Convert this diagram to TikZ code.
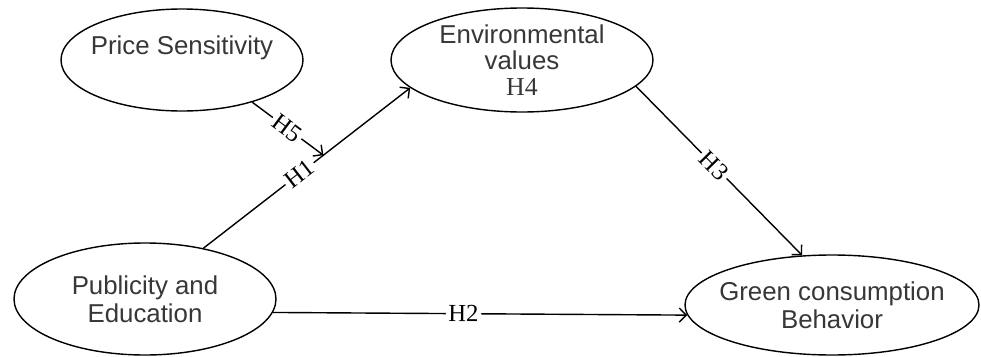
\documentclass[tikz,border=0pt]{standalone}
\usepackage{fontspec}
\setmainfont{Liberation Sans}
\newfontfamily\hfont{Liberation Serif}
\usepackage{xcolor}
\usetikzlibrary{shapes.geometric,arrows.meta}
\definecolor{txtgray}{RGB}{55,55,55}

\begin{document}
\begin{tikzpicture}[
    ell/.style={ellipse, draw=black, line width=0.8pt, inner sep=0pt},
    txt/.style={align=center, text=txtgray, font=\fontsize{14.7}{16}\selectfont},
    arr/.style={line width=0.8pt, -{Straight Barb[length=4pt,width=8pt]}},
    hyp/.style={sloped, fill=white, inner sep=1.5pt, font=\hfont\fontsize{14}{14}\selectfont}]
    \useasboundingbox (0,0) rectangle (19.62,7.12);

    % constructs
    \node[ell, minimum width=4.84cm, minimum height=2.04cm] (ps) at (3.64,5.92) {};
    \node[ell, minimum width=5.24cm, minimum height=2.08cm] (env) at (10.44,5.92) {};
    \node[ell, minimum width=5.24cm, minimum height=2.24cm] (pub) at (2.90,1.14) {};
    \node[ell, minimum width=5.88cm, minimum height=2.00cm] (gcb) at (16.64,1.02) {};

    \node[txt] (ps-t) at ([yshift=0.24cm]ps.center) {Price Sensitivity};
    \node[txt, font=\fontsize{14.7}{14.7}\selectfont] (env-t) at (env.center)
        {Environmental\\values\\{\hfont H4}};
    \node[txt] (pub-t) at (pub.center) {Publicity and\\Education};
    \node[txt] (gcb-t) at (gcb.center) {Green consumption\\Behavior};

    % paths
    \draw[arr] (pub.41.8) -- coordinate[pos=0.58] (h5end)
        node[hyp, pos=0.465] (h1) {H1} (env.194.4);
    \draw[arr] (ps.-31) -- node[hyp, pos=0.49] (h5) {H5} (h5end);
    \draw[arr] (env.-13) -- node[hyp, pos=0.47] (h3) {H3} (gcb.121.8);
    \draw[arr] (pub.-6.7) -- node[hyp, pos=0.46] (h2) {H2} (gcb.184);
\end{tikzpicture}
\end{document}
